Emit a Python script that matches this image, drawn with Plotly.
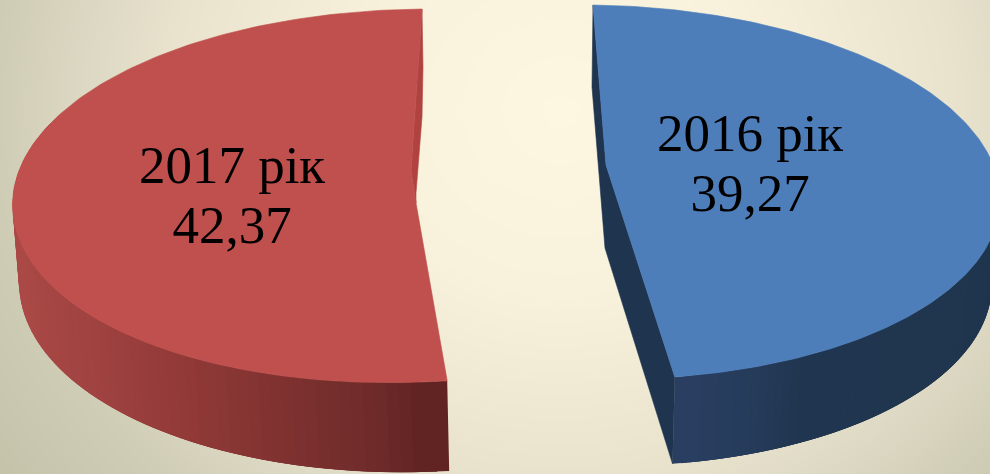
import numpy as np
import plotly.graph_objects as go

# data
categories = ["2016 рік", "2017 рік"]
values = [39.27, 42.37]
value_labels = ["39,27", "42,37"]

# drawing geometry (perspective look of the exploded 3D pie)
W, H = 990, 474
PERSPECTIVE = 0.98
BLUE_TOP = dict(cx=598, cy=192, a=402, b=5, c=5, d=187, e=0)
BLUE_LOW = dict(cx=597, cy=276.5, a=395, b=5, c=5, d=189.5, e=0)
RED_TOP = dict(cx=423.5, cy=195.5, a=411, b=1.5, c=-10, d=186.5, e=-6)
RED_LOW = dict(cx=424, cy=272, a=405, b=3.3, c=-12, d=200, e=0)
BLUE_CUT_TOP = [(606, 165)]
BLUE_CUT_LOW = [(605, 248)]
RED_CUT_TOP = [(416, 203), (411, 170)]
RED_CUT_BACK = [(423, 67), (422, 117), (416, 193), (416, 203), (411, 170)]
LABEL_POS = {"2016 рік": (750, 137.5, 197.5), "2017 рік": (232, 169.5, 229.5)}


def ell(p, deg):
    t = np.radians(deg)
    return (p["cx"] + p["a"] * np.cos(t) + p["b"] * np.sin(t),
            p["cy"] + p["c"] * np.cos(t) + p["d"] * np.sin(t) + p["e"] * np.cos(t) * np.sin(t))


def lerp_color(stops, f):
    xs = [s[0] for s in stops]
    rgb = [int(round(np.interp(f, xs, [s[1][i] for s in stops]))) for i in range(3)]
    return f"rgb({rgb[0]},{rgb[1]},{rgb[2]})"


def poly(x, y, color, lw=0.6):
    return go.Scatter(x=list(x) + [x[0]], y=list(y) + [y[0]], mode="lines", fill="toself",
                      fillcolor=color, line=dict(color=color, width=lw),
                      hoverinfo="skip", showlegend=False)


def side(fig, top, low, t0, t1, stops, n=70):
    ts = np.linspace(t0, t1, n + 1)
    step = ts[1] - ts[0]
    # painted from the far end back to the start, each strip overlapping the next one
    for i in reversed(range(n)):
        tn = ts[i + 1] + (2 * step if i < n - 1 else 0)
        xa, ya = ell(top, ts[i])
        xb, yb = ell(top, tn)
        xc, yc = ell(low, tn)
        xd, yd = ell(low, ts[i])
        col = lerp_color(stops, i / (n - 1))
        fig.add_trace(poly([xa, xb, xc, xd], [ya, yb, yc, yd], col, lw=0))


fig = go.Figure()

# background
gx = np.linspace(0, W, 56)
gy = np.linspace(0, H, 28)
X, Y = np.meshgrid(gx, gy)
R = np.sqrt(((X - 560) / 560) ** 2 + ((Y - 110) / 520) ** 2)
Z = np.clip(R, 0, 1.25) / 1.25
fig.add_trace(go.Heatmap(x=gx, y=gy, z=Z, zmin=0, zmax=1, zsmooth="best", showscale=False,
                         hoverinfo="skip",
                         colorscale=[[0, "#fdf6e0"], [0.28, "#f8f1db"], [0.56, "#e9e3ce"],
                                     [0.8, "#d0cdb7"], [1, "#c4c1a9"]]))

total = sum(values)
blue_sweep = 360 * values[0] / total * PERSPECTIVE
red_sweep = 360 * values[1] / total * PERSPECTIVE
b0, b1 = -90, -90 + blue_sweep
r0, r1 = 270, 270 - red_sweep

# red
rx, ry = ell(RED_TOP, r0)
fig.add_trace(poly([rx] + [p[0] for p in RED_CUT_BACK], [ry] + [p[1] for p in RED_CUT_BACK], "#b04340"))
side(fig, RED_TOP, RED_LOW, r1, 205,
     [(0, (98, 36, 35)), (0.055, (111, 43, 42)), (0.17, (127, 50, 48)), (0.3, (146, 58, 56)),
      (0.46, (160, 67, 65)), (0.65, (170, 73, 70)), (1, (172, 74, 71))])
ts = np.linspace(r0, r1, 200)
ex, ey = ell(RED_TOP, ts)
fig.add_trace(poly(list(ex) + [p[0] for p in RED_CUT_TOP], list(ey) + [p[1] for p in RED_CUT_TOP], "#bf504d"))

# blue
bx0, by0 = ell(BLUE_TOP, b0)
lx0, ly0 = ell(BLUE_LOW, b0)
bx1, by1 = ell(BLUE_TOP, b1)
lx1, ly1 = ell(BLUE_LOW, b1)
fig.add_trace(poly([bx0, lx0, BLUE_CUT_LOW[0][0], lx1, bx1, BLUE_CUT_TOP[0][0]],
                   [by0, ly0, BLUE_CUT_LOW[0][1], ly1, by1, BLUE_CUT_TOP[0][1]], "#1f344e"))
side(fig, BLUE_TOP, BLUE_LOW, b1, -10,
     [(0, (41, 62, 96)), (0.08, (38, 60, 92)), (0.19, (32, 53, 79)), (1, (31, 52, 76))])
ts = np.linspace(b0, b1, 200)
ex, ey = ell(BLUE_TOP, ts)
fig.add_trace(poly(list(ex) + [p[0] for p in BLUE_CUT_TOP], list(ey) + [p[1] for p in BLUE_CUT_TOP], "#4e7eba"))

# labels
for cat, val in zip(categories, value_labels):
    lx, ly1_, ly2_ = LABEL_POS[cat]
    fig.add_trace(go.Scatter(x=[lx, lx], y=[ly1_, ly2_], mode="text", text=[cat, val],
                             textposition="middle center", hoverinfo="skip", showlegend=False,
                             textfont=dict(family="Liberation Serif", size=53, color="#000000")))

fig.update_layout(width=W, height=H, margin=dict(l=0, r=0, t=0, b=0), showlegend=False,
                  paper_bgcolor="#f8f1db", plot_bgcolor="#f8f1db",
                  xaxis=dict(range=[0, W], visible=False, fixedrange=True),
                  yaxis=dict(range=[H, 0], visible=False, fixedrange=True))
fig.write_html("out.html", config=dict(displayModeBar=False),
               post_script="document.body.style.margin='0';document.body.style.overflow='hidden';")
